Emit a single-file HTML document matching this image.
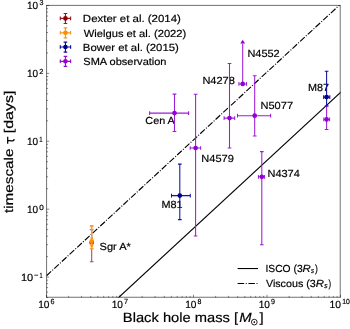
<!DOCTYPE html><html><head><meta charset="utf-8"><style>html,body{margin:0;padding:0;background:#fff}svg{display:block;will-change:transform}text{font-family:"Liberation Sans",sans-serif;text-rendering:geometricPrecision;fill:#000;stroke:#000;stroke-width:0.18px}</style></head><body>
<svg width="350" height="329" viewBox="0 0 350 329">
<rect width="350" height="329" fill="#fff"/>
<defs><clipPath id="c"><rect x="46.5" y="5.5" width="294.0" height="292.0"/></clipPath></defs>
<path d="M46.50 297.5v-2.7 M68.63 297.5v-1.6 M81.57 297.5v-1.6 M90.75 297.5v-1.6 M97.87 297.5v-1.6 M103.69 297.5v-1.6 M108.61 297.5v-1.6 M112.88 297.5v-1.6 M116.64 297.5v-1.6 M120.00 297.5v-2.7 M142.13 297.5v-1.6 M155.07 297.5v-1.6 M164.25 297.5v-1.6 M171.37 297.5v-1.6 M177.19 297.5v-1.6 M182.11 297.5v-1.6 M186.38 297.5v-1.6 M190.14 297.5v-1.6 M193.50 297.5v-2.7 M215.63 297.5v-1.6 M228.57 297.5v-1.6 M237.75 297.5v-1.6 M244.87 297.5v-1.6 M250.69 297.5v-1.6 M255.61 297.5v-1.6 M259.88 297.5v-1.6 M263.64 297.5v-1.6 M267.00 297.5v-2.7 M289.13 297.5v-1.6 M302.07 297.5v-1.6 M311.25 297.5v-1.6 M318.37 297.5v-1.6 M324.19 297.5v-1.6 M329.11 297.5v-1.6 M333.38 297.5v-1.6 M337.14 297.5v-1.6 M340.50 297.5v-2.7 M46.5 277.06h2.7 M46.5 209.17h2.7 M46.5 141.28h2.7 M46.5 73.39h2.7 M46.5 5.50h2.7 M46.5 297.50h1.6 M46.5 292.12h1.6 M46.5 287.58h1.6 M46.5 283.64h1.6 M46.5 280.17h1.6 M46.5 256.63h1.6 M46.5 244.67h1.6 M46.5 236.19h1.6 M46.5 229.61h1.6 M46.5 224.23h1.6 M46.5 219.69h1.6 M46.5 215.75h1.6 M46.5 212.28h1.6 M46.5 188.74h1.6 M46.5 176.78h1.6 M46.5 168.30h1.6 M46.5 161.72h1.6 M46.5 156.34h1.6 M46.5 151.80h1.6 M46.5 147.86h1.6 M46.5 144.39h1.6 M46.5 120.84h1.6 M46.5 108.89h1.6 M46.5 100.41h1.6 M46.5 93.83h1.6 M46.5 88.45h1.6 M46.5 83.91h1.6 M46.5 79.97h1.6 M46.5 76.50h1.6 M46.5 52.95h1.6 M46.5 41.00h1.6 M46.5 32.52h1.6 M46.5 25.94h1.6 M46.5 20.56h1.6 M46.5 16.02h1.6 M46.5 12.08h1.6 M46.5 8.61h1.6" stroke="#000" stroke-width="0.45" fill="none"/>
<g clip-path="url(#c)">
<path d="M-27.00 431.99L414.00 24.65" stroke="#000" stroke-width="1.15" fill="none"/>
<path d="M46.50 275.71L414.00 -63.75" stroke="#000" stroke-width="1.15" fill="none" stroke-dasharray="6.317 1.579 0.987 1.579" stroke-dashoffset="0"/>
</g>
<text x="145.36" y="124.30" font-size="10.25" textLength="29.46" lengthAdjust="spacingAndGlyphs">Cen A</text>
<text x="201.29" y="161.50" font-size="10.25" textLength="32.53" lengthAdjust="spacingAndGlyphs">N4579</text>
<text x="161.51" y="207.70" font-size="10.25" textLength="21.12" lengthAdjust="spacingAndGlyphs">M81</text>
<text x="202.40" y="83.90" font-size="10.25" textLength="32.48" lengthAdjust="spacingAndGlyphs">N4278</text>
<text x="247.40" y="56.90" font-size="10.25" textLength="32.35" lengthAdjust="spacingAndGlyphs">N4552</text>
<text x="260.49" y="108.50" font-size="10.25" textLength="32.56" lengthAdjust="spacingAndGlyphs">N5077</text>
<text x="267.50" y="177.00" font-size="10.25" textLength="32.32" lengthAdjust="spacingAndGlyphs">N4374</text>
<text x="308.11" y="91.30" font-size="10.25" textLength="21.03" lengthAdjust="spacingAndGlyphs">M87</text>
<text x="99.51" y="249.70" font-size="10.25" textLength="31.36" lengthAdjust="spacingAndGlyphs">Sgr A*</text>
<path d="M91.70 229.80V261.70 M89.85 229.80h3.7 M89.85 261.70h3.7" stroke="#ae4a4e" stroke-width="1.05" fill="none"/>
<circle cx="91.70" cy="242.50" r="2.35" fill="#8B0000"/>
<path d="M91.70 226.80V245.00 M89.85 226.80h3.7 M89.85 245.00h3.7" stroke="#ff9d26" stroke-width="1.05" fill="none"/>
<rect x="90.60" y="237.10" width="2.2" height="2.2" fill="#FF8C00"/>
<path d="M91.70 240.00V248.70 M89.85 240.00h3.7 M89.85 248.70h3.7" stroke="#ff9d26" stroke-width="1.05" fill="none"/>
<rect x="90.60" y="244.80" width="2.2" height="2.2" fill="#FF8C00"/>
<path d="M91.70 225.60V248.70 M89.85 225.60h3.7 M89.85 248.70h3.7" stroke="#ff9d26" stroke-width="1.05" fill="none"/>
<rect x="89.75" y="239.75" width="3.9" height="3.9" fill="#FF8C00"/>
<path d="M149.60 113.10H188.60 M149.60 111.25v3.7M188.60 111.25v3.7 M174.50 94.10V131.50 M172.65 94.10h3.7 M172.65 131.50h3.7" stroke="#9c1cd9" stroke-width="1.05" fill="none"/>
<circle cx="174.50" cy="113.10" r="2.35" fill="#9400D3"/>
<path d="M190.20 148.00H200.60 M190.20 146.15v3.7M200.60 146.15v3.7 M195.60 94.20V236.00 M193.75 94.20h3.7 M193.75 236.00h3.7" stroke="#9c1cd9" stroke-width="1.05" fill="none"/>
<circle cx="195.60" cy="148.00" r="2.35" fill="#9400D3"/>
<path d="M224.10 118.10H234.70 M224.10 116.25v3.7M234.70 116.25v3.7 M229.50 63.40V147.90 M227.65 63.40h3.7 M227.65 147.90h3.7" stroke="#9c1cd9" stroke-width="1.05" fill="none"/>
<circle cx="229.50" cy="118.10" r="2.35" fill="#9400D3"/>
<path d="M238.90 83.90H246.50 M238.90 82.05v3.7M246.50 82.05v3.7 M242.70 43.40V83.90" stroke="#9c1cd9" stroke-width="1.05" fill="none"/>
<path d="M242.70 39.70l-2.4 3.7h4.8z" fill="#9400D3"/>
<circle cx="242.70" cy="83.90" r="2.35" fill="#9400D3"/>
<path d="M237.50 115.70H270.60 M237.50 113.85v3.7M270.60 113.85v3.7 M254.70 75.70V136.00 M252.85 75.70h3.7 M252.85 136.00h3.7" stroke="#9c1cd9" stroke-width="1.05" fill="none"/>
<circle cx="254.70" cy="115.70" r="2.35" fill="#9400D3"/>
<path d="M258.40 176.80H264.60 M258.40 174.95v3.7M264.60 174.95v3.7 M261.80 151.60V244.80 M259.95 151.60h3.7 M259.95 244.80h3.7" stroke="#9c1cd9" stroke-width="1.05" fill="none"/>
<circle cx="261.80" cy="176.80" r="2.35" fill="#9400D3"/>
<path d="M323.80 119.40H329.60 M323.80 117.55v3.7M329.60 117.55v3.7 M326.60 106.00V129.40 M324.75 106.00h3.7 M324.75 129.40h3.7" stroke="#9c1cd9" stroke-width="1.05" fill="none"/>
<circle cx="326.60" cy="119.40" r="2.35" fill="#9400D3"/>
<path d="M171.50 195.60H190.30 M171.50 193.75v3.7M190.30 193.75v3.7 M179.80 164.10V219.60 M177.95 164.10h3.7 M177.95 219.60h3.7" stroke="#1212a2" stroke-width="1.05" fill="none"/>
<circle cx="179.80" cy="195.60" r="2.35" fill="#00008B"/>
<path d="M323.60 97.10H329.80 M323.60 95.25v3.7M329.80 95.25v3.7 M326.60 71.30V106.00 M324.75 71.30h3.7 M324.75 106.00h3.7" stroke="#1212a2" stroke-width="1.05" fill="none"/>
<circle cx="326.60" cy="97.10" r="2.35" fill="#00008B"/>
<path d="M46.58 5.1V297.5M340.22 5.1V297.5M46.3 5.4H340.5M46.3 297.25H340.5" fill="none" stroke="#000" stroke-width="0.56"/>
<text x="38.23" y="307.90" font-size="10.4" textLength="11.27" lengthAdjust="spacingAndGlyphs">10</text>
<text x="50.54" y="304.10" font-size="7.4" textLength="3.98" lengthAdjust="spacingAndGlyphs">6</text>
<text x="111.73" y="307.90" font-size="10.4" textLength="11.27" lengthAdjust="spacingAndGlyphs">10</text>
<text x="124.03" y="304.10" font-size="7.4" textLength="4.04" lengthAdjust="spacingAndGlyphs">7</text>
<text x="185.23" y="307.90" font-size="10.4" textLength="11.27" lengthAdjust="spacingAndGlyphs">10</text>
<text x="197.59" y="304.10" font-size="7.4" textLength="3.91" lengthAdjust="spacingAndGlyphs">8</text>
<text x="258.73" y="307.90" font-size="10.4" textLength="11.27" lengthAdjust="spacingAndGlyphs">10</text>
<text x="271.07" y="304.10" font-size="7.4" textLength="3.97" lengthAdjust="spacingAndGlyphs">9</text>
<text x="329.41" y="307.90" font-size="10.4" textLength="11.49" lengthAdjust="spacingAndGlyphs">10</text>
<text x="342.28" y="304.20" font-size="7.4" textLength="7.59" lengthAdjust="spacingAndGlyphs">10</text>
<text x="20.96" y="280.96" font-size="10.4" textLength="12.27" lengthAdjust="spacingAndGlyphs">10</text>
<path d="M34.3 275.21h3.8" stroke="#000" stroke-width="0.8"/>
<text x="39.38" y="277.76" font-size="7.4" textLength="3.10" lengthAdjust="spacingAndGlyphs">1</text>
<text x="39.38" y="209.87" font-size="7.4" textLength="4.54" lengthAdjust="spacingAndGlyphs">0</text>
<text x="27.04" y="213.07" font-size="10.4" textLength="11.16" lengthAdjust="spacingAndGlyphs">10</text>
<text x="39.24" y="141.98" font-size="7.4" textLength="3.35" lengthAdjust="spacingAndGlyphs">1</text>
<text x="27.04" y="145.18" font-size="10.4" textLength="11.16" lengthAdjust="spacingAndGlyphs">10</text>
<text x="39.32" y="74.09" font-size="7.4" textLength="4.15" lengthAdjust="spacingAndGlyphs">2</text>
<text x="27.04" y="77.29" font-size="10.4" textLength="11.16" lengthAdjust="spacingAndGlyphs">10</text>
<text x="39.43" y="5.30" font-size="7.4" textLength="3.99" lengthAdjust="spacingAndGlyphs">3</text>
<text x="27.04" y="9.40" font-size="10.4" textLength="11.16" lengthAdjust="spacingAndGlyphs">10</text>
<text x="122.89" y="322.10" font-size="13.5" textLength="115.22" lengthAdjust="spacingAndGlyphs">Black hole mass [</text>
<text x="239.34" y="322.10" font-size="13.5" font-style="italic" textLength="12.36" lengthAdjust="spacingAndGlyphs">M</text>
<circle cx="254.3" cy="322.1" r="2.85" fill="none" stroke="#000" stroke-width="0.85"/><circle cx="254.3" cy="322.1" r="0.85" fill="#000"/>
<text x="259.48" y="322.10" font-size="13.5" textLength="4.19" lengthAdjust="spacingAndGlyphs">]</text>
<g transform="translate(13.0,212.8) rotate(-90)">
<text x="-0.23" y="0.00" font-size="12.6" textLength="64.41" lengthAdjust="spacingAndGlyphs">timescale</text>
<text x="79.56" y="0.00" font-size="12.6" textLength="42.68" lengthAdjust="spacingAndGlyphs">[days]</text>
</g>
<path d="M7.7 136.8V143.8M7.7 140.45L11.4 140.85C13.3 141.1 14.1 140.3 14.1 138.9" fill="none" stroke="#000" stroke-width="1.25"/>
<path d="M60.30 18.40H70.60 M60.30 16.60v3.6M70.60 16.60v3.6 M65.45 13.50V23.50 M63.65 13.50h3.6 M63.65 23.50h3.6" stroke="#9a1a22" stroke-width="1.15" fill="none"/>
<circle cx="65.45" cy="18.40" r="2.3" fill="#8B0000"/>
<text x="82.86" y="22.10" font-size="10.25" textLength="98.05" lengthAdjust="spacingAndGlyphs">Dexter et al. (2014)</text>
<path d="M60.30 32.80H70.60 M60.30 31.00v3.6M70.60 31.00v3.6 M65.45 27.90V37.90 M63.65 27.90h3.6 M63.65 37.90h3.6" stroke="#ff9414" stroke-width="1.15" fill="none"/>
<circle cx="65.45" cy="32.80" r="2.3" fill="#FF8C00"/>
<text x="83.75" y="36.50" font-size="10.25" textLength="102.54" lengthAdjust="spacingAndGlyphs">Wielgus et al. (2022)</text>
<path d="M60.30 47.00H70.60 M60.30 45.20v3.6M70.60 45.20v3.6 M65.45 42.10V52.10 M63.65 42.10h3.6 M63.65 52.10h3.6" stroke="#0e0e96" stroke-width="1.15" fill="none"/>
<circle cx="65.45" cy="47.00" r="2.3" fill="#00008B"/>
<text x="82.87" y="50.70" font-size="10.25" textLength="95.94" lengthAdjust="spacingAndGlyphs">Bower et al. (2015)</text>
<path d="M60.30 61.30H70.60 M60.30 59.50v3.6M70.60 59.50v3.6 M65.45 56.40V66.40 M63.65 56.40h3.6 M63.65 66.40h3.6" stroke="#980cd6" stroke-width="1.15" fill="none"/>
<circle cx="65.45" cy="61.30" r="2.3" fill="#9400D3"/>
<text x="83.30" y="65.00" font-size="10.25" textLength="83.21" lengthAdjust="spacingAndGlyphs">SMA observation</text>
<path d="M237.6 268.55h20.4" stroke="#000" stroke-width="1.05"/>
<path d="M237.6 283.4h20.4" stroke="#000" stroke-width="1.05" stroke-dasharray="6.5 1.65 1.0 1.65"/>
<text x="265.45" y="271.90" font-size="10.25" textLength="37.20" lengthAdjust="spacingAndGlyphs">ISCO (3</text>
<text x="302.55" y="271.90" font-size="10.25" font-style="italic" textLength="8.20" lengthAdjust="spacingAndGlyphs">R</text>
<text x="310.98" y="273.40" font-size="7.4" font-style="italic" textLength="3.14" lengthAdjust="spacingAndGlyphs">s</text>
<text x="315.05" y="271.90" font-size="10.25" textLength="2.89" lengthAdjust="spacingAndGlyphs">)</text>
<text x="265.95" y="286.50" font-size="10.25" textLength="49.82" lengthAdjust="spacingAndGlyphs">Viscous (3</text>
<text x="315.75" y="286.50" font-size="10.25" font-style="italic" textLength="8.20" lengthAdjust="spacingAndGlyphs">R</text>
<text x="324.28" y="288.00" font-size="7.4" font-style="italic" textLength="3.35" lengthAdjust="spacingAndGlyphs">s</text>
<text x="328.55" y="286.50" font-size="10.25" textLength="2.64" lengthAdjust="spacingAndGlyphs">)</text>
</svg></body></html>
